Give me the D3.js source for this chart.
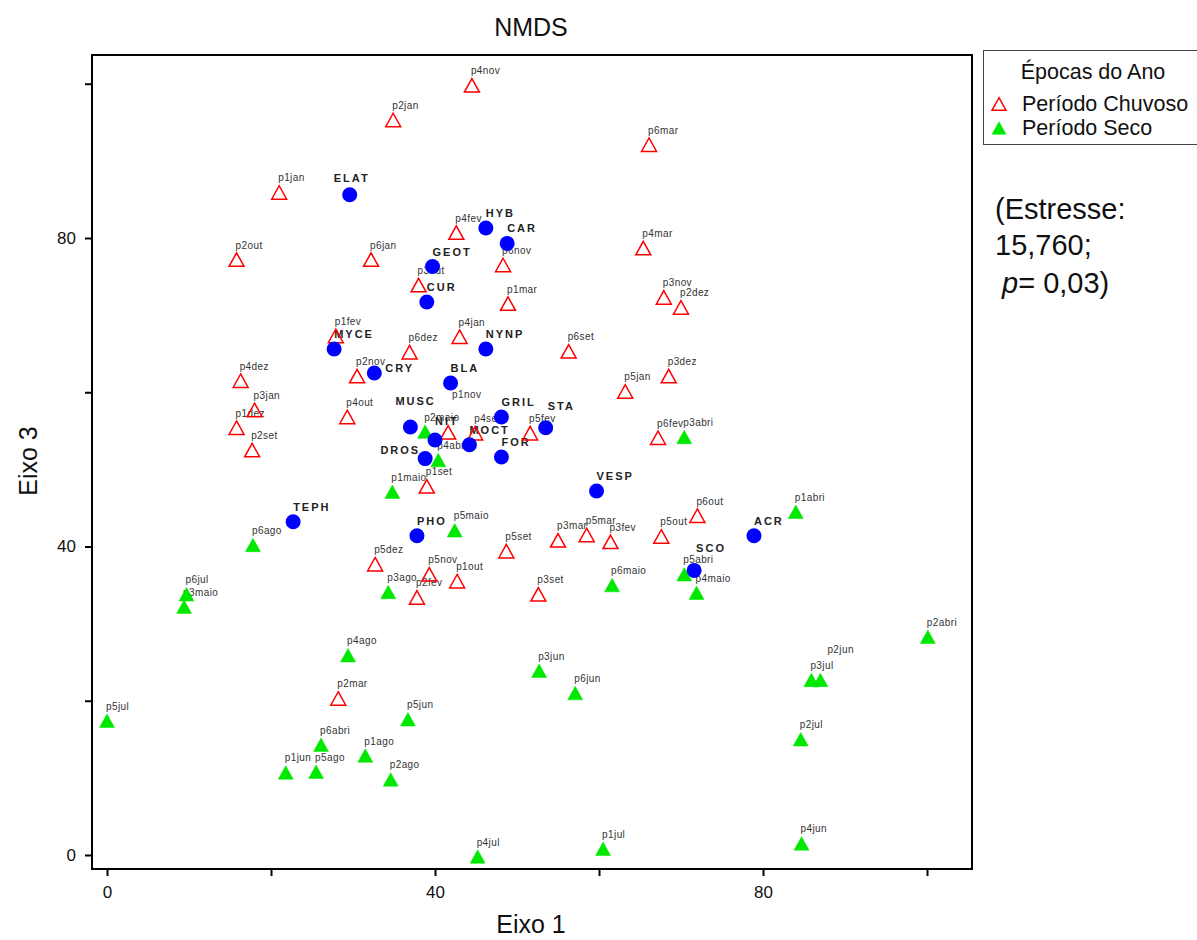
<!DOCTYPE html>
<html><head><meta charset="utf-8">
<script src="https://cdn.jsdelivr.net/npm/d3@7"></script>
<style>
body{margin:0;background:#fff}
svg{display:block}
text{font-family:"Liberation Sans",Arial,Helvetica,sans-serif}
</style>
</head><body>
<svg id="c" width="1197" height="940"></svg>
<script>
// ---- data (Eixo 1, Eixo 3) ----
const chuvoso = [
 ["p1set",39.0,47.8],["p2set",17.7,52.5],["p3set",52.6,33.8],["p4set",44.9,54.7],["p5set",48.7,39.4],["p6set",56.3,65.3],
 ["p1out",42.7,35.5],["p2out",15.8,77.2],["p3out",38.0,73.9],["p4out",29.3,56.8],["p5out",67.6,41.3],["p6out",72.0,44.0],
 ["p1nov",41.6,54.8],["p2nov",30.5,62.1],["p3nov",67.9,72.3],["p4nov",44.5,99.8],["p5nov",39.3,36.4],["p6nov",48.3,76.5],
 ["p1dez",15.8,55.4],["p2dez",70.0,71.0],["p3dez",68.5,62.1],["p4dez",16.3,61.5],["p5dez",32.7,37.7],["p6dez",36.9,65.2],
 ["p1jan",21.0,85.9],["p2jan",34.9,95.3],["p3jan",18.0,57.7],["p4jan",43.0,67.2],["p5jan",63.2,60.1],["p6jan",32.2,77.2],
 ["p1fev",27.9,67.3],["p2fev",37.8,33.4],["p3fev",61.4,40.6],["p4fev",42.6,80.7],["p5fev",51.6,54.7],["p6fev",67.2,54.1],
 ["p1mar",48.9,71.5],["p2mar",28.2,20.3],["p3mar",55.0,40.8],["p4mar",65.4,78.7],["p5mar",58.5,41.5],["p6mar",66.1,92.1]
];
const seco = [
 ["p1abri",84.0,44.5],["p2abri",100.1,28.3],["p3abri",70.4,54.2],["p4abri",40.4,51.2],["p5abri",70.4,36.4],["p6abri",26.1,14.3],
 ["p1maio",34.8,47.1],["p2maio",38.8,54.9],["p3maio",9.4,32.2],["p4maio",71.9,34.0],["p5maio",42.4,42.1],["p6maio",61.6,35.0],
 ["p1jun",21.8,10.7],["p2jun",87.0,22.7],["p3jun",52.7,23.9],["p4jun",84.7,1.5],["p5jun",36.7,17.6],["p6jun",57.1,21.0],
 ["p1jul",60.5,0.8],["p2jul",84.6,15.0],["p3jul",85.9,22.7],["p4jul",45.2,-0.2],["p5jul",0.0,17.4],["p6jul",9.7,33.8],
 ["p1ago",31.5,12.9],["p2ago",34.6,9.8],["p3ago",34.3,34.1],["p4ago",29.4,25.9],["p5ago",25.5,10.8],["p6ago",17.8,40.2]
];
const especies = [
 ["ELAT",29.6,85.6],["HYB",46.2,81.3],["CAR",48.8,79.3],["GEOT",39.7,76.3],["CUR",39.0,71.7],["MYCE",27.7,65.6],
 ["NYNP",46.2,65.6],["CRY",32.6,62.5],["BLA",41.9,61.2],["MUSC",37.0,55.5],["GRIL",48.1,56.8],["STA",53.5,55.4],
 ["NIT",40.0,53.8],["MOCT",44.2,53.2],["FOR",48.1,51.6],["DROS",38.8,51.4],["VESP",59.7,47.2],["TEPH",22.7,43.2],
 ["PHO",37.8,41.4],["ACR",78.9,41.4],["SCO",71.6,36.9]
];
const xTicks = [0,20,40,60,80,100];
const yTicks = [0,20,40,60,80,100];
const labelledTicks = [0,40,80];
const legendItems = ["Período Chuvoso","Período Seco"];

// ---- label placement tweaks (styling, not data) ----
const sampleNudge = {p1nov:[5,-34], p2jun:[8,-27]};
const speciesNudge = {ELAT:[-16,-13],CRY:[11,-1],MUSC:[-15,-22],STA:[2,-18],DROS:[-5,-5,"end"],SCO:[2,-18],NIT:[0,-15]};

const svg = d3.select("#c");
const L=92,R=972,T=55,B=869;
const x = d3.scaleLinear().domain([-15/8.2, 865/8.2]).range([L,R]);
const y = d3.scaleLinear().domain([-14/7.7125, 800/7.7125]).range([B,T]);

// title
svg.append("text").attr("x",531).attr("y",36).attr("text-anchor","middle")
  .attr("font-size",25).attr("fill","#111").text("NMDS");

// axes
const fmt = d => labelledTicks.includes(d) ? String(d) : "";
const gx = svg.append("g").attr("transform",`translate(0,${B})`)
  .call(d3.axisBottom(x).tickValues(xTicks).tickSize(7).tickPadding(10).tickFormat(fmt));
const gy = svg.append("g").attr("transform",`translate(${L},0)`)
  .call(d3.axisLeft(y).tickValues(yTicks).tickSize(7).tickPadding(9).tickFormat(fmt));
[gx,gy].forEach(g=>{
  g.select(".domain").remove();
  g.selectAll(".tick line").attr("stroke","#000").attr("stroke-width",2);
  g.selectAll(".tick text").attr("font-size",17).attr("fill","#111")
   .attr("font-family",'"Liberation Sans",Arial,sans-serif');
});

// frame
svg.append("rect").attr("x",L).attr("y",T).attr("width",R-L).attr("height",B-T)
  .attr("fill","none").attr("stroke","#000").attr("stroke-width",2);

// axis titles
svg.append("text").attr("x",531).attr("y",933).attr("text-anchor","middle")
  .attr("font-size",25).attr("fill","#111").text("Eixo 1");
svg.append("text").attr("transform","translate(37,461) rotate(-90)").attr("text-anchor","middle")
  .attr("font-size",25).attr("fill","#111").text("Eixo 3");

// triangle path
const tri = (s) => `M0,${-s*0.45}L${s/2},${s*0.45}L${-s/2},${s*0.45}Z`;

const gLab = svg.append("g");
const gMark = svg.append("g");

function sampleLabels(data){
  gLab.selectAll(null).data(data).join("text")
    .attr("x",d=>x(d[1]) - 1 + (sampleNudge[d[0]]?sampleNudge[d[0]][0]:0))
    .attr("y",d=>y(d[2]) - 11 + (sampleNudge[d[0]]?sampleNudge[d[0]][1]+11:0))
    .attr("font-size",10).attr("letter-spacing",0.4).attr("fill","#333")
    .text(d=>d[0]);
}
sampleLabels(chuvoso);
sampleLabels(seco);

gLab.selectAll(null).data(especies).join("text")
  .attr("x",d=>x(d[1]) + (speciesNudge[d[0]]?speciesNudge[d[0]][0]:0))
  .attr("y",d=>y(d[2]) + (speciesNudge[d[0]]?speciesNudge[d[0]][1]:-11))
  .attr("text-anchor",d=>speciesNudge[d[0]]&&speciesNudge[d[0]][2]?speciesNudge[d[0]][2]:"start")
  .attr("font-size",11).attr("font-weight","bold").attr("letter-spacing",2).attr("fill","#222")
  .text(d=>d[0]);

gMark.selectAll(null).data(chuvoso).join("path")
  .attr("transform",d=>`translate(${x(d[1])},${y(d[2])})`)
  .attr("d",tri(15)).attr("fill","none").attr("stroke","#ff0000").attr("stroke-width",1.5);
gMark.selectAll(null).data(seco).join("path")
  .attr("transform",d=>`translate(${x(d[1])},${y(d[2])})`)
  .attr("d",tri(15)).attr("fill","#00e800").attr("stroke","#00e800").attr("stroke-width",0.5);
gMark.selectAll(null).data(especies).join("circle")
  .attr("cx",d=>x(d[1])).attr("cy",d=>y(d[2])).attr("r",7.5).attr("fill","#0000ff");

// legend
const lg = svg.append("g");
lg.append("rect").attr("x",983.5).attr("y",50.5).attr("width",240).attr("height",94)
  .attr("fill","#fff").attr("stroke","#444").attr("stroke-width",1);
lg.append("text").attr("x",1093).attr("y",79).attr("text-anchor","middle")
  .attr("font-size",21.5).attr("fill","#111").text("Épocas do Ano");
legendItems.forEach((t,i)=>{
  const yy = 104 + i*24;
  lg.append("path").attr("transform",`translate(999,${yy})`).attr("d",tri(14))
    .attr("fill",i===0?"none":"#00e800").attr("stroke",i===0?"#ff0000":"#00e800")
    .attr("stroke-width",i===0?1.5:0.5);
  lg.append("text").attr("x",1022).attr("y",yy+7).attr("font-size",21.5).attr("fill","#111").text(t);
});

// stress annotation
const st = svg.append("text").attr("font-size",29).attr("fill","#111");
st.append("tspan").attr("x",995).attr("y",219).text("(Estresse:");
st.append("tspan").attr("x",995).attr("y",255).text("15,760;");
const t3 = st.append("tspan").attr("x",1002).attr("y",293);
t3.append("tspan").attr("font-style","italic").text("p");
t3.append("tspan").text("= 0,03)");
</script>
</body></html>
